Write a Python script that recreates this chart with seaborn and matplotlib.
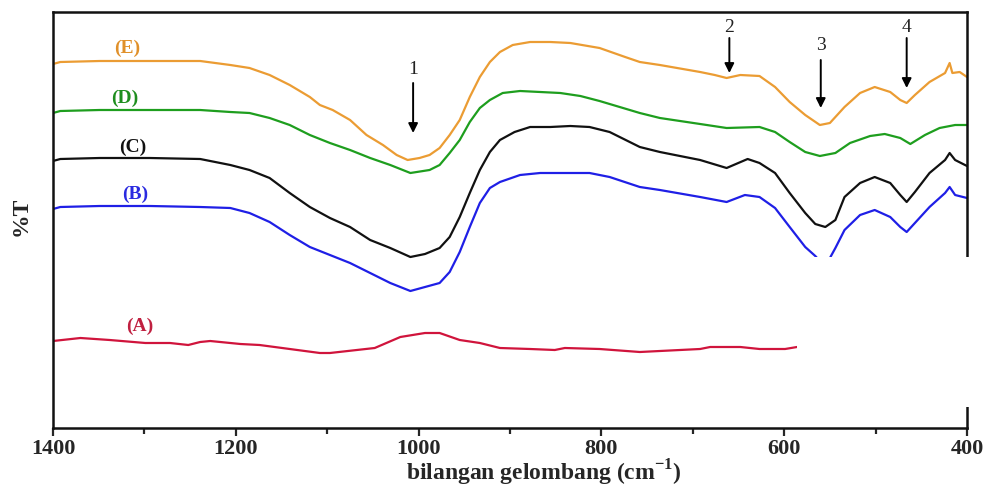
import numpy as np
import pandas as pd
import seaborn as sns
import matplotlib.pyplot as plt
from matplotlib.patches import Rectangle
from matplotlib.ticker import MultipleLocator

# wavenumber (cm-1) and transmittance (arbitrary offset units)
wn_E = [1400, 1392, 1349, 1294, 1239, 1206, 1185, 1163, 1141, 1119, 1108, 1094, 1075, 1057, 1039, 1024,
        1012, 999, 988, 977, 966, 955, 944, 933, 922, 911, 897, 878, 856, 834, 802, 774, 758, 736, 692,
        676, 663, 648, 627, 610, 594, 577, 561, 550, 534, 517, 501, 484, 473, 466, 457, 441, 424, 419,
        416, 408, 400]
t_E = [364, 366, 367, 367, 367, 363, 360, 353, 343, 331, 323, 318, 308, 293, 283, 273, 268, 270, 273,
       280, 293, 308, 331, 351, 366, 376, 383, 386, 386, 385, 380, 371, 366, 363, 356, 353, 350, 353,
       352, 341, 326, 313, 303, 305, 321, 335, 341, 336, 328, 325, 333, 346, 355, 365, 355, 356, 351]

wn_D = [1400, 1392, 1349, 1294, 1239, 1206, 1185, 1163, 1141, 1119, 1097, 1075, 1053, 1031, 1009, 988,
        977, 966, 955, 944, 933, 922, 908, 889, 867, 845, 823, 802, 758, 736, 692, 663, 627, 610, 594,
        577, 561, 544, 528, 506, 490, 473, 462, 446, 430, 413, 400]
t_D = [315, 317, 318, 318, 318, 316, 315, 310, 303, 293, 285, 278, 270, 263, 255, 258, 263, 275, 288,
       306, 320, 328, 335, 337, 336, 335, 332, 327, 315, 310, 304, 300, 301, 296, 286, 276, 272, 275,
       285, 292, 294, 290, 284, 293, 300, 303, 303]

wn_C = [1400, 1392, 1349, 1294, 1239, 1206, 1185, 1163, 1141, 1119, 1097, 1075, 1053, 1031, 1009, 993,
        977, 966, 955, 944, 933, 922, 911, 895, 878, 856, 834, 813, 791, 758, 736, 692, 663, 640, 627,
        610, 594, 577, 566, 555, 544, 534, 517, 501, 484, 473, 466, 457, 441, 424, 419, 413, 400]
t_C = [267, 269, 270, 270, 269, 263, 258, 250, 235, 221, 210, 201, 188, 180, 171, 174, 180, 191, 211,
       235, 258, 276, 288, 296, 301, 301, 302, 301, 296, 281, 276, 268, 260, 269, 265, 255, 235, 215,
       204, 201, 208, 231, 245, 251, 245, 233, 226, 236, 255, 268, 275, 268, 262]

wn_B = [1400, 1392, 1349, 1294, 1239, 1206, 1185, 1163, 1141, 1119, 1097, 1075, 1053, 1031, 1009, 993,
        977, 966, 955, 944, 933, 922, 911, 889, 867, 834, 813, 791, 758, 736, 692, 663, 643, 627, 610,
        594, 577, 566, 559, 550, 544, 534, 517, 501, 484, 473, 466, 457, 441, 424, 419, 413, 400]
t_B = [219, 221, 222, 222, 221, 220, 215, 206, 193, 181, 173, 165, 155, 145, 137, 141, 145, 156, 176,
       201, 225, 240, 246, 253, 255, 255, 255, 251, 241, 238, 231, 226, 233, 231, 220, 201, 181, 172,
       165, 170, 180, 198, 213, 218, 211, 201, 196, 205, 221, 235, 241, 233, 230]

wn_A = [1400, 1370, 1338, 1299, 1272, 1252, 1239, 1228, 1195, 1174, 1141, 1108, 1097, 1048, 1020, 993,
        977, 955, 933, 911, 878, 851, 840, 802, 758, 736, 692, 681, 648, 627, 599, 586]
t_A = [87, 90, 88, 85, 85, 83, 86, 87, 84, 83, 79, 75, 75, 80, 91, 95, 95, 88, 85, 80, 79, 78, 80, 79,
       76, 77, 79, 81, 81, 79, 79, 81]

samples = ["(A)", "(B)", "(C)", "(D)", "(E)"]
colors = ["#d0143c", "#1f1fe6", "#111111", "#1e9e1e", "#eb9c33"]
label_colors = ["#c02040", "#2a2ae0", "#111111", "#1e8e1e", "#e0902a"]
label_wn = [1305, 1310, 1313, 1321, 1319]
label_t = [102, 234, 281, 330, 380]

peak_no = ["1", "2", "3", "4"]
peak_wn = [1006, 660, 560, 466]
peak_text_t = [358, 401, 382, 400]
arrow_from = [345, 390, 368, 390]
arrow_to = [295, 355, 320, 340]

sns.set_style("ticks")
plt.rcParams["font.family"] = ["Liberation Serif", "DejaVu Serif"]
plt.rcParams["mathtext.fontset"] = "custom"
plt.rcParams["mathtext.rm"] = "Liberation Serif"
plt.rcParams["mathtext.bf"] = "Liberation Serif:bold"

fig = plt.figure(figsize=(9.91, 4.88), dpi=100)
ax = fig.add_axes([53 / 991, 1 - 428 / 488, 914 / 991, 416 / 488])

series = [(wn_A, t_A), (wn_B, t_B), (wn_C, t_C), (wn_D, t_D), (wn_E, t_E)]
for (x, y), c in zip(series, colors):
    sns.lineplot(x=x, y=y, color=c, lw=1.6, ax=ax)

for s, lc, lx, ly in zip(samples, label_colors, label_wn, label_t):
    ax.text(lx, ly, s, color=lc, fontsize=14, fontweight="bold", ha="center", va="center")

for n, px, tt, a0, a1 in zip(peak_no, peak_wn, peak_text_t, arrow_from, arrow_to):
    ax.text(px, tt, n, fontsize=14, ha="center", va="center", color="#222222")
    ax.annotate("", xy=(px, a1), xytext=(px, a0),
                arrowprops=dict(arrowstyle="-|>", color="black", lw=1.4,
                                mutation_scale=14, shrinkA=0, shrinkB=0))

# white patch that blanks the lower right corner of the original figure
ax.add_patch(Rectangle((586, 21), -204, 150, facecolor="white", edgecolor="none",
                       zorder=3, clip_on=False))

ax.set_xlim(1400, 400)
ax.set_ylim(0, 416)
ax.xaxis.set_major_locator(MultipleLocator(200))
ax.xaxis.set_minor_locator(MultipleLocator(100))
ax.set_yticks([])
ax.tick_params(axis="x", which="major", direction="out", length=6, width=1.6,
               labelsize=16, pad=2)
ax.tick_params(axis="x", which="minor", direction="out", length=4, width=1.6)
for lab in ax.get_xticklabels():
    lab.set_fontweight("bold")
for sp in ax.spines.values():
    sp.set_linewidth(1.8)
    sp.set_color("#111111")

ax.set_xlabel("bilangan gelombang (cm$^{\\mathbf{-1}}$)", fontsize=17, fontweight="bold")
ax.xaxis.label.set_va("center")
ax.xaxis.set_label_coords((544 - 53) / 914, -0.107)
ax.set_ylabel("%T", fontsize=17, fontweight="bold")
ax.yaxis.label.set_va("center")
ax.yaxis.set_label_coords(-0.035, 0.51)

fig.savefig("out.png", dpi=100)
